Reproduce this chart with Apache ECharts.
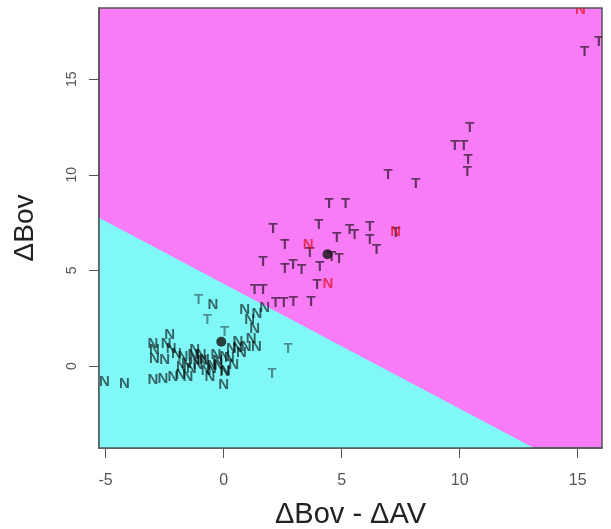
<!DOCTYPE html>
<html>
<head>
<meta charset="utf-8">
<script src="https://cdn.jsdelivr.net/npm/echarts@6/dist/echarts.min.js"></script>
<style>
  html, body { margin: 0; padding: 0; background: #fff; }
  #chart { width: 611px; height: 529px; }
</style>
</head>
<body>
<div id="chart"></div>
<script>
// axis limits and ticks
var xRange = [-5.28, 16.03];
var yRange = [-4.28, 18.72];
var xTicks = [-5, 0, 5, 10, 15];
var yTicks = [0, 5, 10, 15];

// decision boundary (where it leaves the left edge and the bottom edge)
var boundaryX = [-5.28, 13.15];
var boundaryY = [7.75, -4.28];

// T, classified T
var tPoints = [
    [15.29, 16.42], [15.9, 16.95], [10.43, 12.44], [9.8, 11.51], [10.18, 11.51],
    [10.36, 10.78], [10.32, 10.17], [6.97, 9.99], [8.14, 9.52], [4.47, 8.46],
    [5.17, 8.46], [2.09, 7.2], [4.03, 7.38], [2.59, 6.33], [3.65, 5.9],
    [4.8, 6.68], [4.89, 5.63], [4.57, 5.72], [1.67, 5.46], [2.59, 5.11],
    [2.94, 5.28], [3.3, 5.02], [4.08, 5.2], [3.96, 4.24], [1.31, 3.97],
    [1.67, 3.97], [2.2, 3.3], [2.55, 3.3], [2.95, 3.38], [3.7, 3.38],
    [6.19, 7.29], [5.34, 7.12], [5.55, 6.85], [6.19, 6.59], [6.48, 6.07],
    [7.3, 6.95]
];
// T, classified N
var tWrong = [
    [-1.06, 3.45], [-0.69, 2.4], [0.04, 1.79], [2.73, 0.92], [2.05, -0.39]
];
// N, classified N
var nPoints = [
    [-5.05, -0.83], [-4.2, -0.91], [-3.0, -0.74], [-2.57, -0.65], [-2.15, -0.57],
    [-1.82, -0.48], [-1.51, -0.57], [-2.29, 1.62], [-3.0, 1.18], [-2.93, 0.83],
    [-2.93, 0.4], [-2.43, 1.18], [-2.22, 0.92], [-2.5, 0.31], [-2.0, 0.66],
    [-1.72, 0.48], [-1.58, 0.14], [-1.23, 0.31], [-1.23, 0.83], [-0.95, 0.57],
    [-1.79, -0.04], [-1.37, -0.13], [-1.3, 0.57], [-1.09, 0.05], [-0.81, 0.31],
    [-0.74, -0.27], [-0.49, 0.0], [-0.25, 0.26], [-0.58, -0.54], [0.0, -0.98],
    [0.25, 0.43], [0.42, 0.08], [0.08, -0.27], [-0.91, 0.26], [-0.33, 0.61],
    [0.58, 0.96], [0.75, 0.7], [1.17, 1.44], [1.39, 1.0], [0.96, 1.0],
    [0.61, 1.27], [0.33, 0.92], [0.04, 0.48], [-0.24, 0.05], [0.04, -0.3],
    [-0.52, -0.13], [-0.45, 3.19], [0.89, 2.93], [1.74, 3.02], [1.1, 2.4],
    [1.31, 1.97], [1.41, 2.73]
];
// N, classified T
var nWrong = [
    [15.12, 18.6], [7.29, 7.03], [3.58, 6.33], [4.42, 4.32]
];
// group means
var centroids = [[-0.1, 1.27], [4.4, 5.85]];

var chart = echarts.init(document.getElementById('chart'));

function letterSeries(pts, letter, color) {
    return {
        type: 'custom',
        data: pts,
        clip: true,
        z: 3,
        renderItem: function (params, api) {
            var p = api.coord([api.value(0), api.value(1)]);
            return {
                type: 'text',
                style: {
                    x: p[0],
                    y: p[1],
                    text: letter,
                    fill: color,
                    font: 'bold 15px "Liberation Sans", Arial, sans-serif',
                    align: 'center',
                    verticalAlign: 'middle'
                }
            };
        }
    };
}

var option = {
    animation: false,
    grid: {
        left: 99,
        right: 9,
        top: 8,
        bottom: 81,
        outerBoundsMode: 'none',
        containLabel: false,
        show: true,
        backgroundColor: '#f97cf7',
        borderColor: '#555',
        borderWidth: 1.5
    },
    xAxis: {
        type: 'value',
        min: xRange[0],
        max: xRange[1],
        z: 5,
        name: 'ΔBov - ΔAV',
        nameLocation: 'middle',
        nameGap: 52,
        nameTextStyle: { fontSize: 29, color: '#222', fontFamily: 'Liberation Sans' },
        splitLine: { show: false },
        axisLine: { show: true, onZero: false, lineStyle: { color: '#555', width: 1.5 } },
        axisTick: { show: true, length: 10, customValues: xTicks, lineStyle: { color: '#555' } },
        axisLabel: {
            customValues: xTicks,
            margin: 25,
            fontSize: 16,
            color: '#555',
            fontFamily: 'Liberation Sans'
        }
    },
    yAxis: {
        type: 'value',
        min: yRange[0],
        max: yRange[1],
        z: 5,
        name: 'ΔBov',
        nameLocation: 'middle',
        nameGap: 60,
        nameTextStyle: { fontSize: 28, color: '#222', fontFamily: 'Liberation Sans' },
        splitLine: { show: false },
        axisLine: { show: true, onZero: false, lineStyle: { color: '#555', width: 1.5 } },
        axisTick: { show: true, length: 10, customValues: yTicks, lineStyle: { color: '#555' } },
        axisLabel: {
            customValues: yTicks,
            rotate: 90,
            margin: 20,
            fontSize: 14,
            color: '#555',
            fontFamily: 'Liberation Sans'
        }
    },
    series: [
        {
            // cyan region = classified N
            type: 'custom',
            data: [0],
            clip: true,
            z: 1,
            silent: true,
            renderItem: function (params, api) {
                var pts = [
                    api.coord([boundaryX[0], boundaryY[0]]),
                    api.coord([boundaryX[1], boundaryY[1]]),
                    api.coord([xRange[0], yRange[0]])
                ];
                return {
                    type: 'polygon',
                    shape: { points: pts },
                    style: { fill: '#80f8f8' }
                };
            }
        },
        letterSeries(nPoints, 'N', 'rgba(0,0,0,0.6)'),
        letterSeries(tPoints, 'T', 'rgba(0,0,0,0.6)'),
        letterSeries(tWrong, 'T', 'rgba(0,0,0,0.42)'),
        letterSeries(nWrong, 'N', 'rgba(225,20,40,0.75)'),
        {
            type: 'scatter',
            data: centroids,
            symbol: 'circle',
            symbolSize: 10,
            z: 4,
            itemStyle: { color: '#111' }
        }
    ]
};

chart.setOption(option);
window.addEventListener('resize', chart.resize);
</script>
</body>
</html>
